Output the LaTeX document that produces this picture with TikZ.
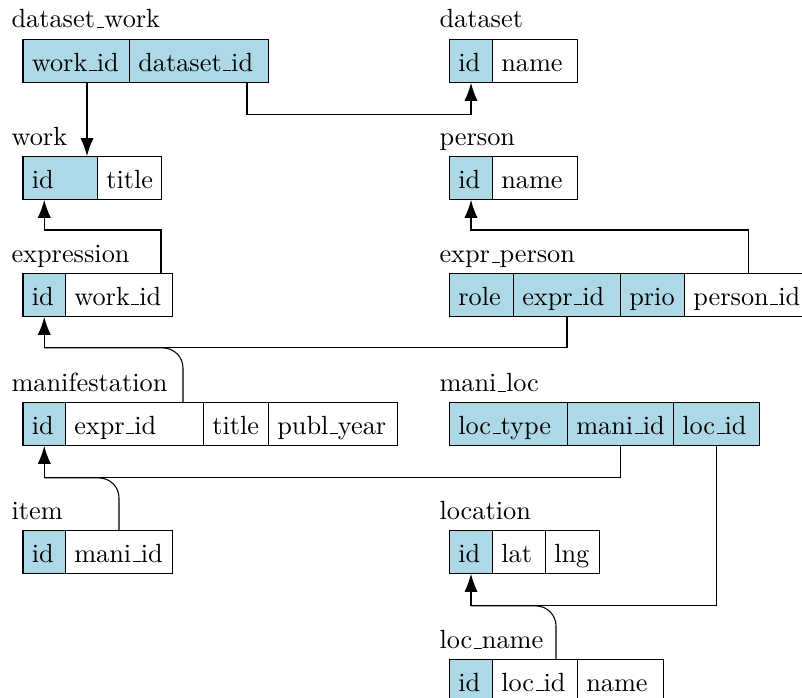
\documentclass[tikz,border=0pt]{standalone}
\usetikzlibrary{calc,arrows.meta}
\definecolor{keyblue}{RGB}{173,216,230}
% low, short underscore as in classic Computer Modern
\newcommand\us{\leavevmode\kern.06em\vbox{\hrule width.3em}}
\tikzset{
  cell/.style={draw=black, inner ysep=0pt, inner xsep=3.33pt, anchor=north west,
               align=left, text height=12.1pt, text depth=4.2pt},
  key/.style={fill=keyblue},
  tname/.style={anchor=base west, inner sep=0pt},
  fk/.style={-{Latex[length=6.8pt,width=5pt]}},
  link/.style={rounded corners=7.6pt}
}
% \tcell{name}{x}{y}{width}{style}{text}
\newcommand\tcell[6]{%
  \pgfmathsetmacro\cw{(#4)*0.38-6.66}%
  \node[cell,#5,text width=\cw pt] (#1) at (#2,#3) {#6};}
\begin{document}
\begin{tikzpicture}[x=0.38pt,y=-0.38pt]
\clip (0,0) rectangle (802,698);

% table names
\node[tname] (t-dw) at (11,28)  {dataset\us work};
\node[tname] (t-ds) at (439,28) {dataset};
\node[tname] (t-w)  at (11,146) {work};
\node[tname] (t-p)  at (439,146) {person};
\node[tname] (t-e)  at (11,263) {expression};
\node[tname] (t-ep) at (439,263) {expr\us person};
\node[tname] (t-m)  at (11,392) {manifestation};
\node[tname] (t-ml) at (439,392) {mani\us loc};
\node[tname] (t-i)  at (11,520) {item};
\node[tname] (t-l)  at (439,520) {location};
\node[tname] (t-ln) at (439,649) {loc\us name};

% columns
\tcell{dw-work}{22.5}{39}{106.5}{key}{work\us id}
\tcell{dw-ds}{129}{39}{139}{key}{dataset\us id}
\tcell{ds-id}{449}{39}{43}{key}{id}
\tcell{ds-name}{492}{39}{85}{}{name}

\tcell{w-id}{22.5}{156}{74.5}{key}{id}
\tcell{w-title}{97}{156}{64}{}{title}
\tcell{p-id}{449}{156}{43}{key}{id}
\tcell{p-name}{492}{156}{85}{}{name}

\tcell{e-id}{22.5}{273}{42.5}{key}{id}
\tcell{e-work}{65}{273}{107}{}{work\us id}
\tcell{ep-role}{449}{273}{64}{key}{role}
\tcell{ep-expr}{513}{273}{107}{key}{expr\us id}
\tcell{ep-prio}{620}{273}{64}{key}{prio}
\tcell{ep-person}{684}{273}{128}{}{person\us id}

\tcell{m-id}{22.5}{402}{42.5}{key}{id}
\tcell{m-expr}{65}{402}{138}{}{expr\us id}
\tcell{m-title}{203}{402}{65}{}{title}
\tcell{m-year}{268}{402}{129}{}{publ\us year}
\tcell{ml-type}{449}{402}{118}{key}{loc\us type}
\tcell{ml-mani}{567}{402}{106}{key}{mani\us id}
\tcell{ml-loc}{673}{402}{86}{key}{loc\us id}

\tcell{i-id}{22.5}{530}{42.5}{key}{id}
\tcell{i-mani}{65}{530}{107}{}{mani\us id}
\tcell{l-id}{449}{530}{43}{key}{id}
\tcell{l-lat}{492}{530}{53}{}{lat}
\tcell{l-lng}{545}{530}{54}{}{lng}

\tcell{ln-id}{449}{659}{43}{key}{id}
\tcell{ln-loc}{492}{659}{85}{}{loc\us id}
\tcell{ln-name}{577}{659}{86}{}{name}

% foreign keys
\draw[fk] ($(dw-work.south west)+(64.5,0)$) -- ($(w-id.north west)+(64.5,0)$);
\draw[fk] ($(dw-ds.south west)+(118,0)$) -- ++(0,32) -| (ds-id.south);
\draw[fk] ($(e-work.north west)+(96,0)$) -- ++(0,-43) -| (e-id.north |- w-id.south);
\draw[fk] (ep-person.north) -- ++(0,-43) -| (p-id.south);
\draw[fk] (ep-expr.south) -- ++(0,31) -| (e-id.south);
\draw[fk] (ml-mani.south) -- ++(0,32) -| (m-id.south);
\draw[fk] (ml-loc.south) -- ++(0,160) -| (l-id.south);
% keys that join a line already drawn to the same column
\draw[link] ($(m-expr.north west)+(118,0)$) |- ($(e-id.south)+(0,31)$);
\draw[link] (i-mani.north) |- ($(m-id.south)+(0,32)$);
\draw[link] ($(ln-loc.north west)+(64,0)$) |- ($(l-id.south)+(0,32)$);
\end{tikzpicture}
\end{document}
